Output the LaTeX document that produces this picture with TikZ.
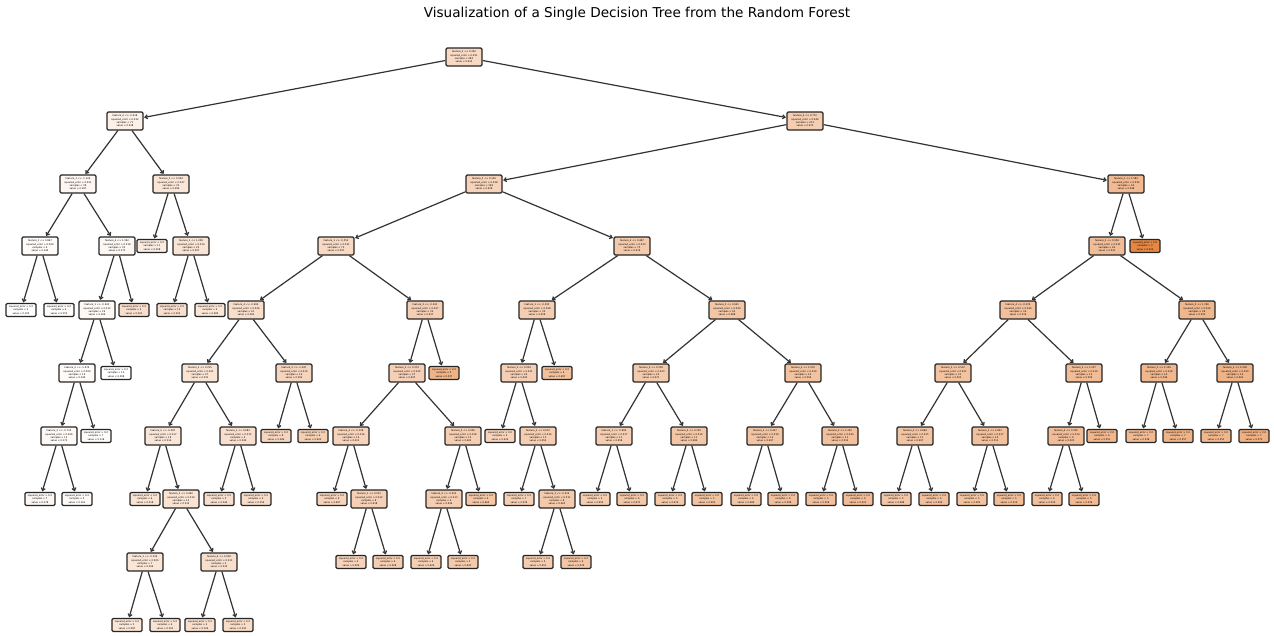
\documentclass[tikz,border=0pt]{standalone}
\usepackage{fontspec}
\setmainfont{DejaVu Sans}
\usetikzlibrary{arrows.meta}
\definecolor{sk}{HTML}{E58139}
\definecolor{edgec}{HTML}{333333}
\newcommand\TIn[5]{feature\_#1 <= #2\\squared\_error = #3\\samples = #4\\value = #5}
\newcommand\TLf[3]{squared\_error = #1\\samples = #2\\value = #3}
\begin{document}
\begin{tikzpicture}[x=1pt,y=-1pt,
  inn/.style={draw=black!85, line width=1.2pt, rounded corners=1.2pt, minimum width=36pt, minimum height=18pt, inner sep=1pt, align=center, font=\fontsize{2.4}{3.3}\selectfont},
  lf/.style={inn, minimum width=30pt, minimum height=13pt},
  edge/.style={draw=edgec, line width=1.2pt, -{Straight Barb[length=2.5pt,width=4pt]}, shorten >=0.5pt}]
\fill[white] (0,0) rectangle (1274,635);
\useasboundingbox (0,0) rectangle (1274,635);
\node[font=\fontsize{13.6}{16}\selectfont] (title) at (637,14) {Visualization of a Single Decision Tree from the Random Forest};
% left subtree
\node[inn,fill=sk!30!white] (r) at (464,57) {\TIn{2}{0.356}{0.051}{284}{0.412}};
\node[inn,fill=sk!12!white] (r0) at (125,121) {\TIn{0}{-0.418}{0.032}{71}{0.238}};
\node[inn,fill=sk!7!white] (r00) at (78,184) {\TIn{3}{-1.126}{0.021}{38}{0.187}};
\node[inn,fill=sk!3!white] (r000) at (40,246) {\TIn{1}{0.847}{0.004}{6}{0.142}};
\node[lf,fill=white] (r0000) at (21,310) {\TLf{0.0}{2}{0.105}};
\node[lf,fill=sk!3!white] (r0001) at (59,310) {\TLf{0.0}{4}{0.153}};
\node[inn,fill=sk!6!white] (r001) at (117,246) {\TIn{4}{1.392}{0.018}{32}{0.175}};
\node[inn,fill=sk!5!white] (r0010) at (97,310) {\TIn{1}{-0.263}{0.012}{29}{0.166}};
\node[inn,fill=sk!3!white] (r00100) at (77,373) {\TIn{0}{-1.674}{0.009}{19}{0.149}};
\node[inn,fill=sk!5!white] (r001000) at (59,436) {\TIn{2}{-0.715}{0.006}{12}{0.171}};
\node[lf,fill=sk!6!white] (r0010000) at (40,499) {\TLf{0.0}{7}{0.178}};
\node[lf,fill=sk!4!white] (r0010001) at (77,499) {\TLf{0.0}{5}{0.161}};
\node[lf,fill=sk!2!white] (r001001) at (96,436) {\TLf{0.0}{7}{0.118}};
\node[lf,fill=white] (r00101) at (116,373) {\TLf{0.0}{10}{0.098}};
\node[lf,fill=sk!25!white] (r0011) at (134,310) {\TLf{0.0}{3}{0.321}};
\node[inn,fill=sk!20!white] (r01) at (171,184) {\TIn{3}{0.594}{0.027}{33}{0.294}};
\node[lf,fill=sk!15!white] (r010) at (152,246) {\TLf{0.0}{11}{0.258}};
\node[inn,fill=sk!22!white] (r011) at (191,246) {\TIn{1}{1.208}{0.019}{22}{0.307}};
\node[lf,fill=sk!25!white] (r0110) at (172,310) {\TLf{0.0}{13}{0.322}};
\node[lf,fill=sk!20!white] (r0111) at (210,310) {\TLf{0.0}{9}{0.285}};
% right subtree
\node[inn,fill=sk!40!white] (r1) at (805,121) {\TIn{0}{0.772}{0.044}{213}{0.471}};
\node[inn,fill=sk!35!white] (r10) at (484,184) {\TIn{3}{0.129}{0.038}{148}{0.438}};
\node[inn,fill=sk!30!white] (r100) at (336,246) {\TIn{1}{-0.552}{0.031}{73}{0.397}};
\node[inn,fill=sk!27!white] (r1000) at (246,310) {\TIn{4}{-0.904}{0.026}{41}{0.362}};
\node[inn,fill=sk!22!white] (r10000) at (200,373) {\TIn{2}{0.215}{0.021}{27}{0.331}};
\node[inn,fill=sk!20!white] (r100000) at (163,436) {\TIn{0}{-0.087}{0.017}{18}{0.314}};
\node[lf,fill=sk!22!white] (r1000000) at (145,499) {\TLf{0.0}{6}{0.318}};
\node[inn,fill=sk!22!white] (r1000001) at (181,499) {\TIn{3}{0.462}{0.014}{12}{0.312}};
\node[inn,fill=sk!20!white] (r10000010) at (145,562) {\TIn{1}{-0.336}{0.009}{7}{0.296}};
\node[lf,fill=sk!20!white] (r100000100) at (127,625) {\TLf{0.0}{3}{0.287}};
\node[lf,fill=sk!22!white] (r100000101) at (165,625) {\TLf{0.0}{4}{0.303}};
\node[inn,fill=sk!25!white] (r10000011) at (219,562) {\TIn{4}{0.918}{0.011}{5}{0.335}};
\node[lf,fill=sk!25!white] (r100000110) at (200,625) {\TLf{0.0}{2}{0.326}};
\node[lf,fill=sk!28!white] (r100000111) at (238,625) {\TLf{0.0}{3}{0.341}};
\node[inn,fill=sk!25!white] (r100001) at (238,436) {\TIn{1}{0.683}{0.015}{9}{0.349}};
\node[lf,fill=sk!25!white] (r1000010) at (219,499) {\TLf{0.0}{5}{0.344}};
\node[lf,fill=sk!28!white] (r1000011) at (256,499) {\TLf{0.0}{4}{0.356}};
\node[inn,fill=sk!33!white] (r10001) at (294,373) {\TIn{0}{-1.047}{0.019}{14}{0.392}};
\node[lf,fill=sk!33!white] (r100010) at (276,436) {\TLf{0.0}{8}{0.384}};
\node[lf,fill=sk!38!white] (r100011) at (313,436) {\TLf{0.0}{6}{0.403}};
\node[inn,fill=sk!38!white] (r1001) at (425,310) {\TIn{2}{-0.241}{0.027}{32}{0.437}};
\node[inn,fill=sk!37!white] (r10010) at (407,373) {\TIn{3}{0.374}{0.022}{27}{0.425}};
\node[inn,fill=sk!35!white] (r100100) at (351,436) {\TIn{4}{-0.128}{0.016}{14}{0.411}};
\node[lf,fill=sk!35!white] (r1001000) at (332,499) {\TLf{0.0}{6}{0.407}};
\node[inn,fill=sk!37!white] (r1001001) at (369,499) {\TIn{1}{0.551}{0.012}{8}{0.418}};
\node[lf,fill=sk!35!white] (r10010010) at (351,562) {\TLf{0.0}{4}{0.409}};
\node[lf,fill=sk!40!white] (r10010011) at (388,562) {\TLf{0.0}{4}{0.428}};
\node[inn,fill=sk!40!white] (r100101) at (463,436) {\TIn{0}{0.206}{0.018}{13}{0.441}};
\node[inn,fill=sk!40!white] (r1001010) at (444,499) {\TIn{2}{-0.613}{0.013}{9}{0.436}};
\node[lf,fill=sk!38!white] (r10010100) at (426,562) {\TLf{0.0}{4}{0.429}};
\node[lf,fill=sk!42!white] (r10010101) at (463,562) {\TLf{0.0}{5}{0.447}};
\node[lf,fill=sk!45!white] (r1001011) at (481,499) {\TLf{0.0}{4}{0.462}};
\node[lf,fill=sk!60!white] (r10011) at (444,373) {\TLf{0.0}{5}{0.537}};
\node[inn,fill=sk!42!white] (r101) at (632,246) {\TIn{4}{0.487}{0.033}{75}{0.476}};
\node[inn,fill=sk!40!white] (r1010) at (537,310) {\TIn{1}{-0.395}{0.028}{30}{0.458}};
\node[inn,fill=sk!38!white] (r10100) at (519,373) {\TIn{0}{0.034}{0.021}{24}{0.443}};
\node[lf,fill=sk!35!white] (r101000) at (500,436) {\TLf{0.0}{9}{0.416}};
\node[inn,fill=sk!40!white] (r101001) at (538,436) {\TIn{2}{0.672}{0.016}{15}{0.452}};
\node[lf,fill=sk!38!white] (r1010010) at (519,499) {\TLf{0.0}{7}{0.439}};
\node[inn,fill=sk!42!white] (r1010011) at (557,499) {\TIn{3}{-0.219}{0.011}{8}{0.463}};
\node[lf,fill=sk!40!white] (r10100110) at (538,562) {\TLf{0.0}{4}{0.451}};
\node[lf,fill=sk!45!white] (r10100111) at (576,562) {\TLf{0.0}{4}{0.474}};
\node[lf,fill=sk!50!white] (r10101) at (557,373) {\TLf{0.0}{6}{0.497}};
\node[inn,fill=sk!45!white] (r1011) at (727,310) {\TIn{3}{0.941}{0.029}{45}{0.488}};
\node[inn,fill=sk!42!white] (r10110) at (651,373) {\TIn{0}{0.318}{0.023}{22}{0.471}};
\node[inn,fill=sk!40!white] (r101100) at (614,436) {\TIn{1}{-0.804}{0.017}{11}{0.458}};
\node[lf,fill=sk!40!white] (r1011000) at (595,499) {\TLf{0.0}{5}{0.452}};
\node[lf,fill=sk!45!white] (r1011001) at (632,499) {\TLf{0.0}{6}{0.471}};
\node[inn,fill=sk!45!white] (r101101) at (689,436) {\TIn{4}{0.139}{0.019}{11}{0.484}};
\node[lf,fill=sk!43!white] (r1011010) at (670,499) {\TLf{0.0}{6}{0.476}};
\node[lf,fill=sk!48!white] (r1011011) at (707,499) {\TLf{0.0}{5}{0.493}};
\node[inn,fill=sk!48!white] (r10111) at (803,373) {\TIn{2}{1.076}{0.024}{23}{0.504}};
\node[inn,fill=sk!47!white] (r101110) at (765,436) {\TIn{1}{0.427}{0.018}{12}{0.497}};
\node[lf,fill=sk!45!white] (r1011100) at (746,499) {\TLf{0.0}{6}{0.486}};
\node[lf,fill=sk!50!white] (r1011101) at (783,499) {\TLf{0.0}{6}{0.508}};
\node[inn,fill=sk!50!white] (r101111) at (840,436) {\TIn{0}{1.352}{0.020}{11}{0.512}};
\node[lf,fill=sk!50!white] (r1011110) at (821,499) {\TLf{0.0}{5}{0.506}};
\node[lf,fill=sk!53!white] (r1011111) at (858,499) {\TLf{0.0}{6}{0.521}};
\node[inn,fill=sk!55!white] (r11) at (1126,184) {\TIn{1}{1.583}{0.036}{65}{0.548}};
\node[lf,fill=sk!95!white] (r111) at (1145,246) {\TLf{0.0}{3}{0.912}};
\node[inn,fill=sk!52!white] (r110) at (1107,246) {\TIn{2}{0.958}{0.031}{62}{0.531}};
\node[inn,fill=sk!50!white] (r1100) at (1018,310) {\TIn{4}{-0.276}{0.026}{34}{0.516}};
\node[inn,fill=sk!48!white] (r11000) at (953,373) {\TIn{3}{0.512}{0.021}{21}{0.503}};
\node[inn,fill=sk!47!white] (r110000) at (915,436) {\TIn{0}{0.884}{0.015}{11}{0.497}};
\node[lf,fill=sk!45!white] (r1100000) at (896,499) {\TLf{0.0}{5}{0.488}};
\node[lf,fill=sk!50!white] (r1100001) at (934,499) {\TLf{0.0}{6}{0.506}};
\node[inn,fill=sk!50!white] (r110001) at (990,436) {\TIn{1}{2.041}{0.017}{10}{0.511}};
\node[lf,fill=sk!48!white] (r1100010) at (972,499) {\TLf{0.0}{5}{0.502}};
\node[lf,fill=sk!52!white] (r1100011) at (1009,499) {\TLf{0.0}{5}{0.519}};
\node[inn,fill=sk!53!white] (r11001) at (1084,373) {\TIn{2}{1.237}{0.019}{13}{0.529}};
\node[inn,fill=sk!52!white] (r110010) at (1066,436) {\TIn{4}{0.305}{0.014}{9}{0.523}};
\node[lf,fill=sk!50!white] (r1100100) at (1047,499) {\TLf{0.0}{4}{0.514}};
\node[lf,fill=sk!55!white] (r1100101) at (1084,499) {\TLf{0.0}{5}{0.536}};
\node[lf,fill=sk!58!white] (r110011) at (1102,436) {\TLf{0.0}{4}{0.551}};
\node[inn,fill=sk!58!white] (r1101) at (1197,310) {\TIn{0}{1.746}{0.024}{28}{0.552}};
\node[inn,fill=sk!57!white] (r11010) at (1159,373) {\TIn{3}{1.109}{0.018}{14}{0.546}};
\node[lf,fill=sk!55!white] (r110100) at (1141,436) {\TLf{0.0}{7}{0.538}};
\node[lf,fill=sk!60!white] (r110101) at (1178,436) {\TLf{0.0}{7}{0.557}};
\node[inn,fill=sk!60!white] (r11011) at (1235,373) {\TIn{1}{2.318}{0.020}{14}{0.561}};
\node[lf,fill=sk!58!white] (r110110) at (1216,436) {\TLf{0.0}{7}{0.553}};
\node[lf,fill=sk!63!white] (r110111) at (1254,436) {\TLf{0.0}{7}{0.572}};
% edges
\foreach \a/\b in {r/r0, r/r1, r0/r00, r0/r01, r00/r000, r00/r001, r000/r0000, r000/r0001, r001/r0010, r001/r0011, r0010/r00100, r0010/r00101, r00100/r001000, r00100/r001001, r001000/r0010000, r001000/r0010001, r01/r010, r01/r011, r011/r0110, r011/r0111,
 r1/r10, r1/r11, r10/r100, r10/r101, r100/r1000, r100/r1001, r1000/r10000, r1000/r10001, r10000/r100000, r10000/r100001, r100000/r1000000, r100000/r1000001, r1000001/r10000010, r1000001/r10000011, r10000010/r100000100, r10000010/r100000101, r10000011/r100000110, r10000011/r100000111, r100001/r1000010, r100001/r1000011, r10001/r100010, r10001/r100011, r1001/r10010, r1001/r10011, r10010/r100100, r10010/r100101, r100100/r1001000, r100100/r1001001, r1001001/r10010010, r1001001/r10010011, r100101/r1001010, r100101/r1001011, r1001010/r10010100, r1001010/r10010101,
 r101/r1010, r101/r1011, r1010/r10100, r1010/r10101, r10100/r101000, r10100/r101001, r101001/r1010010, r101001/r1010011, r1010011/r10100110, r1010011/r10100111, r1011/r10110, r1011/r10111, r10110/r101100, r10110/r101101, r101100/r1011000, r101100/r1011001, r101101/r1011010, r101101/r1011011, r10111/r101110, r10111/r101111, r101110/r1011100, r101110/r1011101, r101111/r1011110, r101111/r1011111,
 r11/r110, r11/r111, r110/r1100, r110/r1101, r1100/r11000, r1100/r11001, r11000/r110000, r11000/r110001, r110000/r1100000, r110000/r1100001, r110001/r1100010, r110001/r1100011, r11001/r110010, r11001/r110011, r110010/r1100100, r110010/r1100101, r1101/r11010, r1101/r11011, r11010/r110100, r11010/r110101, r11011/r110110, r11011/r110111}
  \draw[edge] (\a) -- (\b);
\end{tikzpicture}
\end{document}
